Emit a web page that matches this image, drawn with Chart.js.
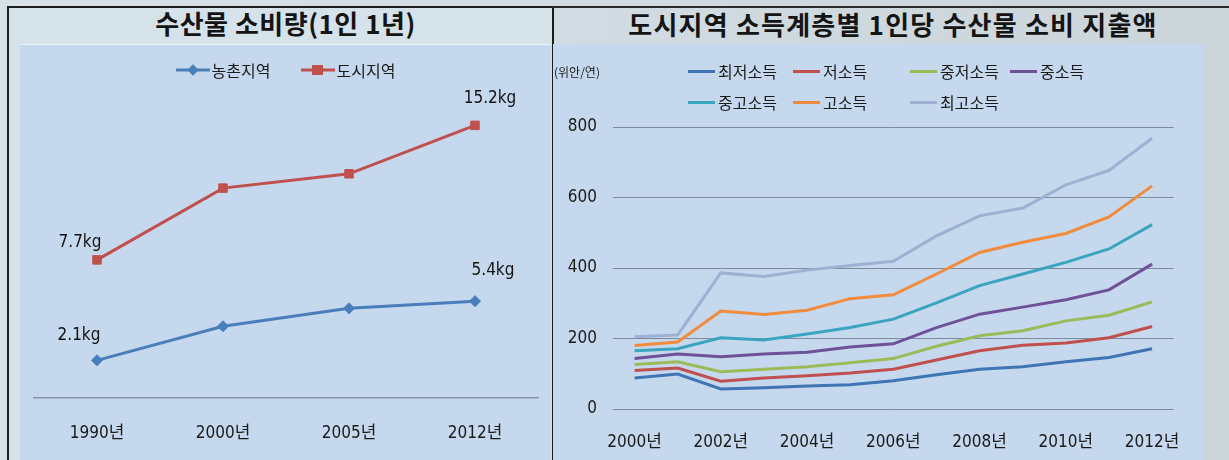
<!DOCTYPE html>
<html><head><meta charset="utf-8">
<script src="https://cdn.jsdelivr.net/npm/chart.js@4.4.1/dist/chart.umd.min.js"></script>
<style>
html,body{margin:0;padding:0;}
body{width:1229px;height:460px;overflow:hidden;position:relative;background:linear-gradient(90deg,#d6e1e8 0%,#d0dbe2 50%,#cbd5d9 100%);font-family:'Noto Sans CJK KR',sans-serif;}
.abs{position:absolute;}
#lframe{left:7px;top:6px;width:543px;height:460px;border-left:2px solid #1c1c1c;border-top:2px solid #1c1c1c;border-right:2px solid #1c1c1c;background:#d5e2ea;}
#rtop{left:552px;top:6px;width:677px;height:0;border-top:2px solid #2a2a2a;}
#lblue{left:20px;top:44px;width:531px;height:416px;background:#c6d8ee;border-top:1px solid #eaf5fb;}
#rblue{left:553px;top:44px;width:650px;height:416px;background:#c6d8ee;}
.title{font-family:'Noto Sans CJK KR',sans-serif;font-weight:700;font-size:26px;color:#141414;text-align:center;white-space:nowrap;letter-spacing:0.5px;}
#ltitle{left:20px;top:5px;width:531px;line-height:36px;}
#rtitle{left:553px;top:5px;width:680px;line-height:38px;font-size:26px;letter-spacing:1.2px;}
canvas{display:block;}
.leg{font-family:'Noto Sans CJK KR',sans-serif;font-size:16px;color:#1a1a1a;white-space:nowrap;display:flex;align-items:center;}
.sw{display:inline-block;width:27px;height:3px;margin-right:3px;}
#unit{left:554px;top:63px;font-family:'Noto Sans CJK KR',sans-serif;font-size:12px;color:#1a1a1a;}
</style></head>
<body>
<div id="lframe" class="abs"></div>
<div id="rtop" class="abs"></div>
<div id="lblue" class="abs"><canvas id="c1" width="531" height="416"></canvas></div>
<div id="rblue" class="abs"><canvas id="c2" width="650" height="416"></canvas></div>
<div id="ltitle" class="abs title">수산물 소비량(1인 1년)</div>
<div id="rtitle" class="abs title">도시지역 소득계층별 1인당 수산물 소비 지출액</div>
<div id="unit" class="abs">(위안/연)</div>
<div id="lleg"></div>
<div id="rleg"></div>
<script>
// ---------- Data: left chart ----------
const leftCategories = ['1990년', '2000년', '2005년', '2012년'];
const ruralValues = [2.1, 4.0, 5.0, 5.4];
const urbanValues = [7.7, 11.7, 12.5, 15.2];
const leftSeriesNames = ['농촌지역', '도시지역'];

// ---------- Data: right chart ----------
const years = ['2000년','2001년','2002년','2003년','2004년','2005년','2006년','2007년','2008년','2009년','2010년','2011년','2012년'];
const rightSeriesNames = ['최저소득','저소득','중저소득','중소득','중고소득','고소득','최고소득'];
const lowestIncome   = [88, 99, 57, 60, 65, 69, 80, 97, 113, 120, 134, 146, 171];
const lowIncome      = [109, 116, 79, 88, 94, 102, 113, 139, 165, 181, 187, 202, 234];
const lowerMidIncome = [126, 134, 106, 113, 120, 131, 143, 178, 208, 222, 250, 266, 304];
const midIncome      = [143, 156, 148, 156, 161, 176, 185, 231, 269, 289, 310, 338, 411];
const upperMidIncome = [165, 171, 202, 196, 213, 231, 255, 301, 350, 383, 416, 454, 523];
const highIncome     = [180, 190, 278, 268, 280, 313, 324, 383, 444, 473, 498, 545, 633];
const highestIncome  = [205, 210, 386, 376, 394, 407, 419, 491, 548, 570, 636, 677, 768];
const rightTicks = [0, 200, 400, 600, 800];

// ---------- pick a narrow font if one is installed ----------
function fontAvailable(name) {
  const c = document.createElement('canvas').getContext('2d');
  const s = '2000 2012 wmlli 0123456789';
  return ['monospace', 'serif'].some(base => {
    c.font = '40px ' + base; const w0 = c.measureText(s).width;
    c.font = "40px '" + name + "', " + base; return c.measureText(s).width !== w0;
  });
}
const narrowCandidates = ['Liberation Sans Narrow', 'DejaVu Sans Condensed', 'Roboto Condensed', 'Open Sans Condensed', 'Arial Narrow'];
const narrowFound = narrowCandidates.find(fontAvailable);
const NARROW = (narrowFound ? "'" + narrowFound + "'," : "'Roboto',") + "'Noto Sans CJK KR',sans-serif";
const TICK_SIZE = narrowFound ? 17 : 15;

// ---------- Left chart ----------
const leftColors = ['#4a7ebb', '#c0504d'];
const labelOffsets = [[[-18, -25], [18, -31]], [[-17, -17], [15, -27]]];
const endLabels = {
  id: 'endLabels',
  afterDatasetsDraw(chart) {
    const ctx = chart.ctx;
    ctx.save();
    ctx.font = (TICK_SIZE) + 'px ' + NARROW;
    ctx.fillStyle = '#111';
    ctx.textAlign = 'center';
    ctx.textBaseline = 'middle';
    chart.data.datasets.forEach((ds, di) => {
      const meta = chart.getDatasetMeta(di);
      const n = ds.data.length;
      [0, n - 1].forEach((i, k) => {
        const p = meta.data[i];
        const [dx, dy] = labelOffsets[di][k];
        ctx.fillText(ds.data[i] + 'kg', p.x + dx, p.y + dy);
      });
    });
    ctx.restore();
  }
};
new Chart(document.getElementById('c1'), {
  type: 'line',
  data: {
    labels: leftCategories,
    datasets: [
      { label: leftSeriesNames[0], data: ruralValues, borderColor: leftColors[0], backgroundColor: leftColors[0],
        borderWidth: 3, pointStyle: 'rectRot', pointRadius: 5.5, pointBorderWidth: 1, tension: 0 },
      { label: leftSeriesNames[1], data: urbanValues, borderColor: leftColors[1], backgroundColor: leftColors[1],
        borderWidth: 3, pointStyle: 'rect', pointRadius: 6, pointBorderWidth: 1, tension: 0 }
    ]
  },
  options: {
    responsive: false, animation: false, events: [],
    layout: { padding: { left: 14, right: 13, top: 66, bottom: 0 } },
    plugins: { legend: { display: false }, tooltip: { enabled: false } },
    scales: {
      x: { offset: true, grid: { display: false, drawTicks: false },
           border: { display: true, color: '#8595a8', width: 1.5 },
           ticks: { padding: 25, color: '#1a1a1a', font: { size: TICK_SIZE, family: NARROW } },
           afterFit(s) { s.height = 63; } },
      y: { display: false, min: 0, max: 16 }
    }
  },
  plugins: [endLabels]
});

// ---------- Right chart ----------
const rightData = [lowestIncome, lowIncome, lowerMidIncome, midIncome, upperMidIncome, highIncome, highestIncome];
const rightColors = ['#3f75b2', '#c0504d', '#9bbb59', '#6f5197', '#3aa5bf', '#f28b3c', '#9fb1d3'];
new Chart(document.getElementById('c2'), {
  type: 'line',
  data: {
    labels: years,
    datasets: rightSeriesNames.map((name, i) => ({
      label: name, data: rightData[i], borderColor: rightColors[i], backgroundColor: rightColors[i],
      borderWidth: 3, pointRadius: 0, tension: 0
    }))
  },
  options: {
    responsive: false, animation: false, events: [],
    layout: { padding: { left: 0, right: 16, top: 83, bottom: 0 } },
    plugins: { legend: { display: false }, tooltip: { enabled: false } },
    scales: {
      x: { offset: true, grid: { display: false, drawTicks: false }, border: { display: false },
           ticks: { autoSkip: false, maxRotation: 0, padding: 23, color: '#1a1a1a', font: { size: TICK_SIZE, family: NARROW },
                    callback(v, i) { return i % 2 === 0 ? years[i] : ''; } },
           afterFit(s) { s.height = 51; } },
      y: { min: 0, max: 800, afterBuildTicks(s) { s.ticks = rightTicks.map(v => ({ value: v })); },
           grid: { color: '#7d8c9c', lineWidth: 1, drawTicks: false }, border: { display: false },
           ticks: { padding: 16, color: '#1a1a1a', font: { size: TICK_SIZE, family: NARROW } },
           afterFit(s) { s.width = 60; } }
    }
  }
});

// ---------- Legends (HTML) ----------
const lleg = document.getElementById('lleg');
lleg.style.cssText = 'position:absolute;left:20px;top:58px;width:531px;display:flex;justify-content:center;gap:30px;';
const markers = ['<rect x="12" y="1" width="8" height="8" transform="rotate(45 16 5)" />', '<rect x="10" y="0" width="11" height="10" />'];
leftSeriesNames.forEach((name, i) => {
  const d = document.createElement('div');
  d.className = 'leg';
  d.innerHTML = '<svg width="34" height="12" style="margin-right:2px"><line x1="0" y1="6" x2="34" y2="6" stroke="' + leftColors[i] +
    '" stroke-width="3"/><g fill="' + leftColors[i] + '" transform="translate(1,1)">' + markers[i] + '</g></svg>' + name;
  lleg.appendChild(d);
});
const rleg = document.getElementById('rleg');
const colX = [688, 793, 910, 1010];
rightSeriesNames.forEach((name, i) => {
  const row = i < 4 ? 0 : 1;
  const col = i < 4 ? i : i - 4;
  const d = document.createElement('div');
  d.className = 'leg abs';
  d.style.left = colX[col] + 'px';
  d.style.top = (row === 0 ? 59 : 90) + 'px';
  d.innerHTML = '<span class="sw" style="background:' + rightColors[i] + '"></span>' + name;
  rleg.appendChild(d);
});
</script>
</body></html>
